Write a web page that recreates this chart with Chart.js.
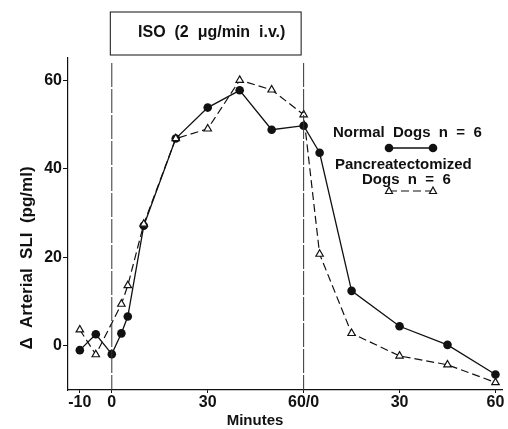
<!DOCTYPE html>
<html>
<head>
<meta charset="utf-8">
<script src="https://cdn.jsdelivr.net/npm/chart.js@4.4.0/dist/chart.umd.min.js"></script>
<style>
  html, body { margin: 0; padding: 0; background: #fff; }
  canvas { display: block; }
</style>
</head>
<body>
<canvas id="isoChart" width="508" height="429"></canvas>
<script>
// minutes: 0..60 = ISO infusion, 60..120 = 0..60 min after stopping
const normalMinutes = [-10, -5, 0, 3, 5, 10, 20, 30, 40, 50, 60, 65, 75, 90, 105, 120];
const normalValues  = [-1, 2.6, -1.9, 2.8, 6.6, 27.1, 46.8, 53.8, 57.7, 48.8, 49.7, 43.6, 12.4, 4.4, 0.2, -6.5];

const pancMinutes = [-10, -5, 3, 5, 10, 20, 30, 40, 50, 60, 65, 75, 90, 105, 120];
const pancValues  = [3.6, -2, 9.4, 13.6, 27.5, 46.8, 49, 60, 57.8, 52.2, 20.7, 2.8, -2.3, -4.3, -8.3];

const xTicks = [-10, 0, 30, 60, 90, 120];
const xTickLabels = ['-10', '0', '30', '60/0', '30', '60'];
const yTicks = [0, 20, 40, 60];

const infusionStart = 0;
const infusionEnd = 60;

const INK = '#111';
const FONT = 'Liberation Sans, Arial, sans-serif';

function toPoints(xs, ys) {
  return xs.map(function (x, i) { return { x: x, y: ys[i] }; });
}

// vertical markers, infusion box, legend, axis titles
const annotations = {
  id: 'annotations',
  afterDatasetsDraw: function (chart) {
    const ctx = chart.ctx;
    const x = chart.scales.x;
    const area = chart.chartArea;
    const x0 = x.getPixelForValue(infusionStart);
    const x1 = x.getPixelForValue(infusionEnd);

    ctx.save();
    ctx.strokeStyle = '#333';
    ctx.lineWidth = 1;
    ctx.setLineDash([24, 2]);
    [x0, x1].forEach(function (px) {
      ctx.beginPath();
      ctx.moveTo(px, area.top + 5);
      ctx.lineTo(px, area.bottom);
      ctx.stroke();
    });
    ctx.setLineDash([]);

    // infusion box
    ctx.strokeStyle = INK;
    ctx.lineWidth = 1;
    ctx.strokeRect(x0 - 1.5, 12, x1 - x0 - 1, 43);
    ctx.fillStyle = INK;
    ctx.font = 'bold 16px ' + FONT;
    ctx.textAlign = 'center';
    ctx.textBaseline = 'middle';
    ctx.fillText('ISO  (2  \u03BCg/min  i.v.)', (x0 + x1) / 2 + 4, 33);

    // legend
    ctx.font = 'bold 15px ' + FONT;
    ctx.textAlign = 'left';
    ctx.fillText('Normal  Dogs  n  =  6', 333, 133);
    ctx.fillText('Pancreatectomized', 335, 165);
    ctx.fillText('Dogs  n  =  6', 362, 180);

    ctx.lineWidth = 1.3;
    ctx.beginPath();
    ctx.moveTo(389, 148);
    ctx.lineTo(433, 148);
    ctx.stroke();
    [389, 433].forEach(function (px) {
      ctx.beginPath();
      ctx.arc(px, 148, 4.3, 0, Math.PI * 2);
      ctx.fill();
    });

    ctx.setLineDash([8, 4]);
    ctx.lineWidth = 1.2;
    ctx.beginPath();
    ctx.moveTo(389, 191);
    ctx.lineTo(433, 191);
    ctx.stroke();
    ctx.setLineDash([]);
    [389, 433].forEach(function (px) {
      ctx.beginPath();
      ctx.moveTo(px, 187);
      ctx.lineTo(px + 3.5, 193.5);
      ctx.lineTo(px - 3.5, 193.5);
      ctx.closePath();
      ctx.fillStyle = '#fff';
      ctx.fill();
      ctx.stroke();
    });

    // axis titles
    ctx.fillStyle = INK;
    ctx.font = 'bold 15px ' + FONT;
    ctx.textAlign = 'center';
    ctx.fillText('Minutes', 255, 421);

    ctx.translate(27, 258);
    ctx.rotate(-Math.PI / 2);
    ctx.font = 'bold 17px ' + FONT;
    ctx.fillText('\u0394  Arterial  SLI  (pg/ml)', 0, 0);
    ctx.restore();
  }
};

const ctx = document.getElementById('isoChart').getContext('2d');
new Chart(ctx, {
  type: 'line',
  data: {
    datasets: [
      {
        label: 'Pancreatectomized Dogs n = 6',
        data: toPoints(pancMinutes, pancValues),
        borderColor: INK,
        borderWidth: 1.2,
        borderDash: [8, 4],
        pointStyle: 'triangle',
        pointRadius: 4.3,
        pointBackgroundColor: '#fff',
        pointBorderColor: INK,
        pointBorderWidth: 1.2,
        tension: 0,
      },
      {
        label: 'Normal Dogs n = 6',
        data: toPoints(normalMinutes, normalValues),
        borderColor: INK,
        borderWidth: 1.3,
        pointStyle: 'circle',
        pointRadius: 4.3,
        pointBackgroundColor: INK,
        pointBorderColor: INK,
        pointBorderWidth: 0,
        tension: 0,
      },
    ],
  },
  options: {
    responsive: false,
    animation: false,
    layout: { padding: { top: 58, right: 2, left: 0, bottom: 0 } },
    plugins: {
      legend: { display: false },
      tooltip: { enabled: false },
    },
    scales: {
      x: {
        type: 'linear',
        min: -13.7,
        max: 122.2,
        afterBuildTicks: function (scale) {
          scale.ticks = xTicks.map(function (v) { return { value: v }; });
        },
        afterFit: function (scale) { scale.height = 39; },
        ticks: {
          autoSkip: false,
          maxRotation: 0,
          padding: 0,
          color: INK,
          font: { family: FONT, size: 16, weight: 'bold' },
          callback: function (value) {
            return xTickLabels[xTicks.indexOf(value)];
          },
        },
        grid: { drawOnChartArea: false, drawTicks: true, tickLength: 3, color: INK },
        border: { display: true, color: INK, width: 1.2 },
      },
      y: {
        min: -10,
        max: 65,
        afterBuildTicks: function (scale) {
          scale.ticks = yTicks.map(function (v) { return { value: v }; });
        },
        afterFit: function (scale) { scale.width = 68; },
        ticks: {
          padding: 1,
          color: INK,
          font: { family: FONT, size: 16, weight: 'bold' },
        },
        grid: { drawOnChartArea: false, drawTicks: true, tickLength: 5, color: INK },
        border: { display: true, color: INK, width: 1.2 },
      },
    },
  },
  plugins: [annotations],
});
</script>
</body>
</html>
